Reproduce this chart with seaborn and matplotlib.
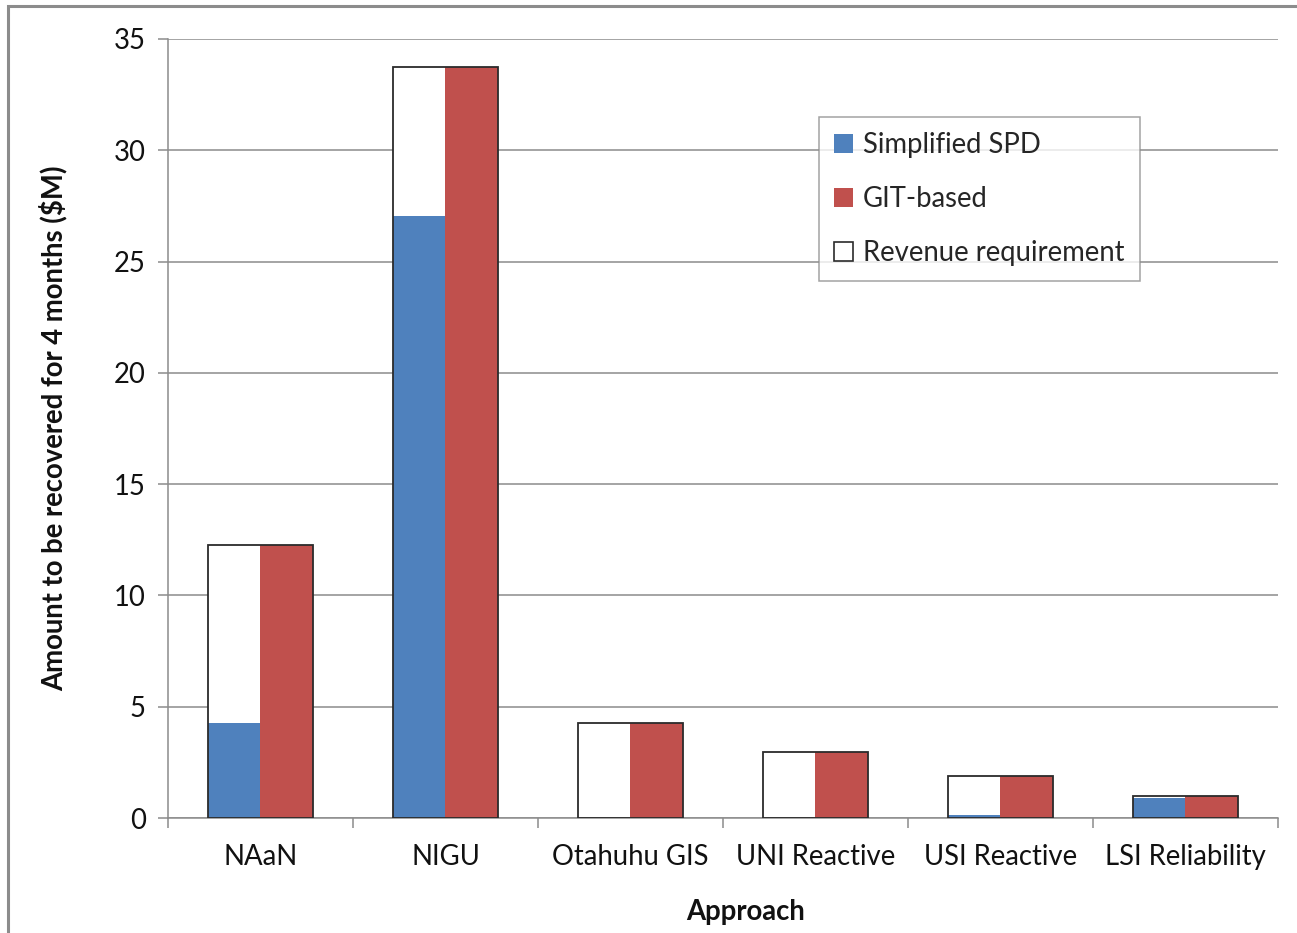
import matplotlib
matplotlib.use("Agg")
import matplotlib.pyplot as plt
from matplotlib.patches import Patch, Rectangle
import seaborn as sns
import pandas as pd

# Amounts to be recovered over 4 months ($M) by allocation approach
approaches = ["NAaN", "NIGU", "Otahuhu GIS", "UNI Reactive", "USI Reactive", "LSI Reliability"]
simplified_spd = [4.27, 27.05, 0.0, 0.0, 0.13, 0.92]
git_based = [12.27, 33.75, 4.27, 2.96, 1.89, 0.99]
revenue_requirement = [12.27, 33.75, 4.27, 2.96, 1.89, 0.99]

series_names = ["Simplified SPD", "GIT-based"]
series_colors = ["#4F81BD", "#C0504D"]
y_ticks = [0, 5, 10, 15, 20, 25, 30, 35]

sns.set_theme(style="white")
plt.rcParams["font.family"] = ["Lato", "DejaVu Sans"]

long_df = pd.DataFrame({
    "Approach": approaches * 2,
    "Series": [series_names[0]] * len(approaches) + [series_names[1]] * len(approaches),
    "Amount": simplified_spd + git_based,
})
req_df = pd.DataFrame({"Approach": approaches, "Amount": revenue_requirement})

fig = plt.figure(figsize=(12.97, 9.33), dpi=100)
ax = fig.add_axes([0.1295, 0.1232, 0.8558, 0.835])

group_width = 0.57
edge = "#2b2b2b"
fs = 19.8

# white revenue-requirement bars behind the two series
sns.barplot(data=req_df, x="Approach", y="Amount", order=approaches, color="white",
            width=group_width, edgecolor="none", linewidth=0, saturation=1,
            errorbar=None, ax=ax, zorder=2)
# side-by-side series bars
sns.barplot(data=long_df, x="Approach", y="Amount", hue="Series", order=approaches,
            hue_order=series_names, palette=series_colors, width=group_width,
            dodge=True, saturation=1, edgecolor="none", linewidth=0,
            errorbar=None, ax=ax, legend=False, zorder=3)
# revenue-requirement outline drawn over the series
sns.barplot(data=req_df, x="Approach", y="Amount", order=approaches, fill=False,
            width=group_width, edgecolor=edge, linewidth=1.3,
            errorbar=None, ax=ax, zorder=4)
for p in ax.patches:
    if not p.get_fill():
        p.set_zorder(4)

ax.set_ylim(0, 35)
ax.set_xlim(-0.5, len(approaches) - 0.5)
ax.set_yticks(y_ticks)
ax.yaxis.grid(True, color="#8c8c8c", linewidth=1.1, zorder=0)
ax.set_axisbelow(True)

for side in ["top", "right"]:
    ax.spines[side].set_visible(False)
for side in ["left", "bottom"]:
    ax.spines[side].set_color("#8c8c8c")
    ax.spines[side].set_linewidth(1.1)

ax.tick_params(axis="y", which="major", length=7, width=1.1, color="#8c8c8c",
               labelsize=fs, pad=9, left=True, labelcolor="#111111")
ax.tick_params(axis="x", which="major", length=0, labelsize=fs, pad=19,
               labelcolor="#111111")
ax.set_xticks([i + 0.5 for i in range(-1, len(approaches))], minor=True)
ax.tick_params(axis="x", which="minor", length=7, width=1.1, color="#8c8c8c",
               bottom=True, direction="out")

ax.set_xlabel("Approach", fontsize=fs, fontweight="bold", color="#111111")
ax.xaxis.set_label_coords(0.5207, -0.104)
ax.set_ylabel("Amount to be recovered for 4 months ($M)", fontsize=fs,
              fontweight="bold", labelpad=33, color="#111111")

handles = [
    Patch(facecolor=series_colors[0], edgecolor="none"),
    Patch(facecolor=series_colors[1], edgecolor="none"),
    Patch(facecolor="white", edgecolor=edge, linewidth=1.2),
]
labels = series_names + ["Revenue requirement"]
leg = ax.legend(handles, labels, loc="upper left", bbox_to_anchor=(0.5865, 0.90),
                borderaxespad=0, fontsize=fs, frameon=True, fancybox=False,
                edgecolor="#8c8c8c", handlelength=0.7, handleheight=0.7,
                handletextpad=0.35, labelspacing=1.02, borderpad=0.55)
leg.get_frame().set_linewidth(1.1)
leg.set_zorder(6)

# outer chart border
fig.patches.append(Rectangle((0.0062, -0.05), 1.2, 1.0436, transform=fig.transFigure,
                             fill=False, edgecolor="#8c8c8c", linewidth=2.2))

fig.savefig("out.png", dpi=100)
